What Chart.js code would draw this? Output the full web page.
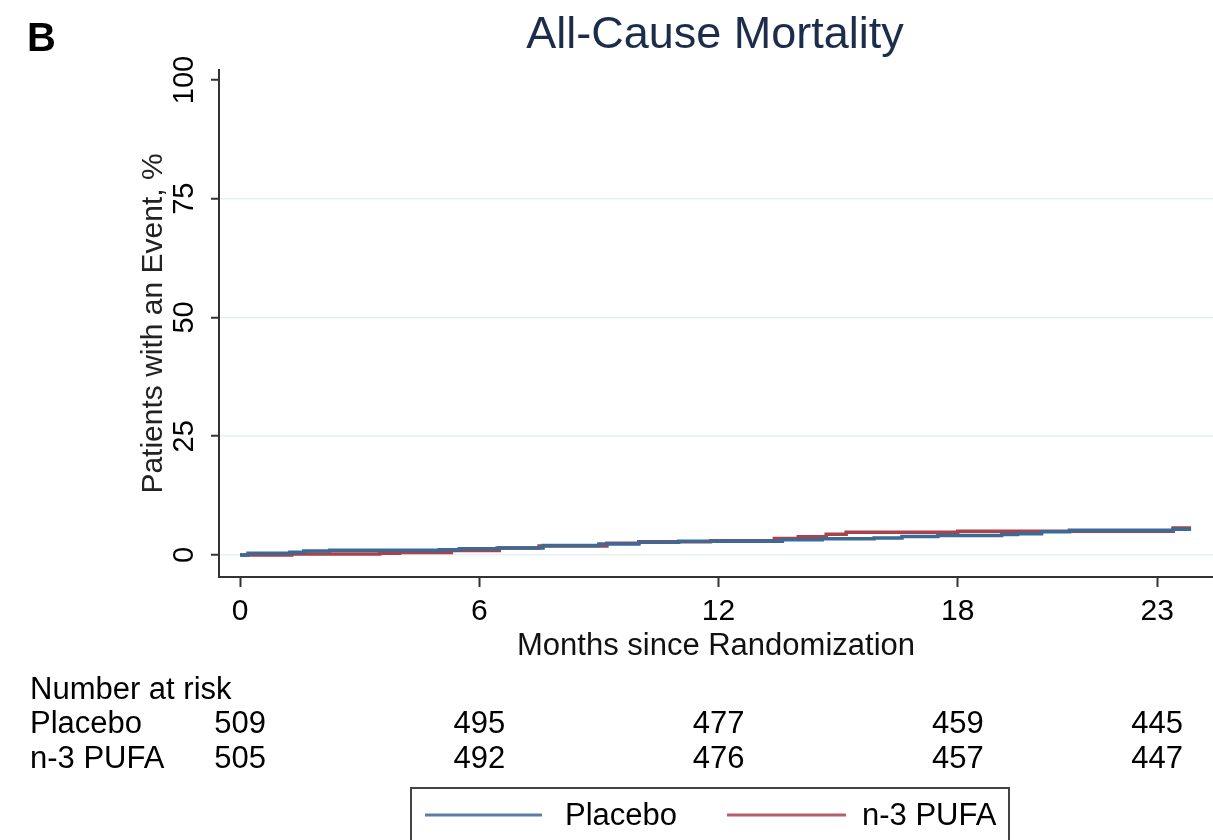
<!DOCTYPE html>
<html>
<head>
<meta charset="utf-8">
<script src="https://cdn.jsdelivr.net/npm/chart.js@4"></script>
<style>
  html, body { margin: 0; padding: 0; background: #fff; }
  #wrap { width: 1213px; height: 840px; }
</style>
</head>
<body>
<div id="wrap"><canvas id="km"></canvas></div>
<script>
// months since randomization / cumulative % with event (step data)
const placeboMonths = [0, 0.2, 1.25, 1.6, 2.25, 5.0, 5.5, 6.45, 7.6, 9.0, 10.0, 11.0, 13.6, 14.6, 15.9, 16.6, 17.5, 19.1, 19.5, 20.1, 20.8, 23.4, 23.85];
const placeboPct    = [0, 0.35, 0.6, 0.85, 1.0, 1.1, 1.3, 1.5, 2.0, 2.3, 2.7, 2.9, 3.2, 3.4, 3.6, 3.9, 4.1, 4.3, 4.5, 4.9, 5.2, 5.4, 5.4];
const pufaMonths = [0, 1.3, 3.5, 4.0, 5.3, 6.5, 7.5, 9.2, 10.0, 11.8, 13.4, 14.0, 14.7, 15.2, 18.0, 23.4, 23.85];
const pufaPct    = [0, 0.2, 0.35, 0.55, 0.95, 1.45, 1.9, 2.45, 2.8, 3.0, 3.5, 3.85, 4.35, 4.8, 5.0, 5.7, 5.7];

const xTicks = [0, 6, 12, 18, 23];
const yTicks = [0, 25, 50, 75, 100];

const riskPlacebo = [509, 495, 477, 459, 445];
const riskPufa    = [505, 492, 476, 457, 447];

const blue = '#3d6a94';
const red = '#a8424c';
const FONT = '"Liberation Sans", Arial, sans-serif';

function toPoints(xs, ys) {
  return xs.map((x, i) => ({ x: x, y: ys[i] }));
}

// title, panel letter, number-at-risk table and legend box
const extras = {
  id: 'extras',
  afterDraw(chart) {
    const c = chart.ctx;
    const xs = chart.scales.x;
    c.save();
    c.fillStyle = '#000';
    c.font = 'bold 40px ' + FONT;
    c.textAlign = 'left';
    c.textBaseline = 'alphabetic';
    c.fillText('B', 27, 51);

    c.fillStyle = '#1c2d4c';
    c.font = '45px ' + FONT;
    c.textAlign = 'center';
    c.fillText('All-Cause Mortality', 715, 48);

    c.fillStyle = '#000';
    c.font = '31px ' + FONT;
    c.textBaseline = 'middle';
    c.textAlign = 'left';
    c.fillText('Number at risk', 30, 690);
    c.fillText('Placebo', 30, 724);
    c.fillText('n-3 PUFA', 30, 759);
    c.textAlign = 'center';
    xTicks.forEach((t, i) => {
      const px = xs.getPixelForValue(t);
      c.fillText(String(riskPlacebo[i]), px, 724);
      c.fillText(String(riskPufa[i]), px, 759);
    });

    // legend
    c.strokeStyle = '#444';
    c.lineWidth = 2;
    c.strokeRect(411, 788, 598, 70);
    c.lineWidth = 3;
    c.strokeStyle = '#5a7ea6';
    c.beginPath(); c.moveTo(425, 815); c.lineTo(542, 815); c.stroke();
    c.strokeStyle = '#b45f69';
    c.beginPath(); c.moveTo(727, 815); c.lineTo(846, 815); c.stroke();
    c.fillStyle = '#000';
    c.textAlign = 'left';
    c.fillText('Placebo', 565, 816);
    c.fillText('n-3 PUFA', 862, 816);
    c.restore();
  }
};

const ctx = document.getElementById('km');
const myChart = new Chart(ctx, {
  type: 'line',
  data: {
    datasets: [
      {
        label: 'Placebo',
        data: toPoints(placeboMonths, placeboPct),
        borderColor: blue,
        borderWidth: 3.5,
        pointRadius: 0,
        stepped: true,
        fill: false
      },
      {
        label: 'n-3 PUFA',
        data: toPoints(pufaMonths, pufaPct),
        borderColor: red,
        borderWidth: 3.5,
        pointRadius: 0,
        stepped: true,
        fill: false
      }
    ]
  },
  options: {
    responsive: true,
    maintainAspectRatio: false,
    animation: false,
    layout: { padding: { left: 136, top: 70, right: 0, bottom: 175 } },
    plugins: {
      legend: { display: false },
      tooltip: { enabled: false }
    },
    scales: {
      x: {
        type: 'linear',
        min: -0.527,
        max: 24.4,
        afterBuildTicks: (s) => { s.ticks = xTicks.map(v => ({ value: v })); },
        afterFit: (s) => { s.height = 88; },
        ticks: {
          color: '#000',
          font: { family: FONT, size: 30 },
          padding: 7,
          maxRotation: 0,
          callback: (v) => String(v)
        },
        grid: {
          drawOnChartArea: false,
          drawTicks: true,
          tickLength: 10,
          tickColor: '#333',
          tickWidth: 2
        },
        border: { color: '#333', width: 2 },
        title: {
          display: true,
          text: 'Months since Randomization',
          color: '#111',
          font: { family: FONT, size: 31 },
          padding: 0
        }
      },
      y: {
        type: 'linear',
        min: -4.63,
        max: 102.1,
        afterBuildTicks: (s) => { s.ticks = yTicks.map(v => ({ value: v })); },
        afterFit: (s) => { s.width = 83; },
        ticks: {
          color: '#000',
          font: { family: FONT, size: 29 },
          padding: 2,
          minRotation: 90,
          maxRotation: 90,
          crossAlign: 'center',
          callback: (v) => String(v)
        },
        grid: {
          color: (c) => (c.tick && c.tick.value === 100) ? 'rgba(0,0,0,0)' : '#e6eff1',
          lineWidth: 1.5,
          drawTicks: true,
          tickLength: 8,
          tickColor: '#333',
          tickWidth: 2
        },
        border: { color: '#333', width: 2 },
        title: {
          display: true,
          text: 'Patients with an Event, %',
          color: '#222',
          font: { family: FONT, size: 30 },
          padding: 0
        }
      }
    }
  },
  plugins: [extras]
});
</script>
</body>
</html>
